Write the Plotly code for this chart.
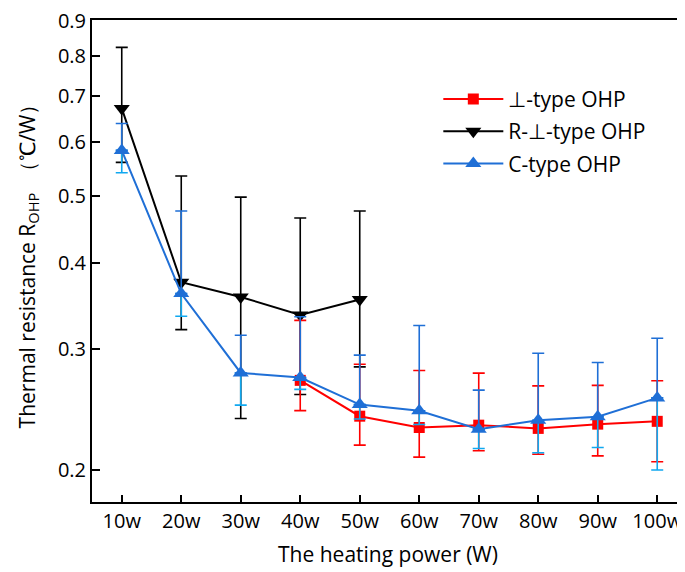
import plotly.graph_objects as go
import math

categories = ["10w", "20w", "30w", "40w", "50w", "60w", "70w", "80w", "90w", "100w"]

# ⊥-type OHP
perp = [None, None, None, 0.270, 0.2395, 0.2306, 0.2324, 0.2299, 0.2332, 0.2354]
perp_hi = [None, None, None, 0.330, 0.285, 0.279, 0.2766, 0.2651, 0.2655, 0.2696]
perp_lo = [None, None, None, 0.244, 0.2174, 0.2088, 0.2133, 0.2108, 0.2097, 0.2056]

# R-⊥-type OHP
rperp = [0.671, 0.375, 0.357, 0.336, 0.354, None, None, None, None, None]
rperp_hi = [0.823, 0.535, 0.4985, 0.465, 0.476, None, None, None, None, None]
rperp_lo = [0.560, 0.320, 0.2377, 0.2575, 0.2825, None, None, None, None, None]

# C-type OHP
ctype = [0.583, 0.361, 0.2768, 0.2726, 0.249, 0.2439, 0.2293, 0.2363, 0.2390, 0.2546]
ctype_hi = [0.638, 0.476, 0.314, 0.334, 0.2938, 0.3244, 0.2613, 0.2957, 0.2867, 0.3109]
ctype_lo = [0.541, 0.3346, 0.2485, 0.262, 0.2372, 0.2329, 0.2149, 0.2119, 0.2157, 0.200]

ytickvals = [0.2, 0.3, 0.4, 0.5, 0.6, 0.7, 0.8, 0.9]

RED = "#FF0000"
BLACK = "#000000"
BLUE = "#1F6FD6"
LBLUE = "#10A8F0"


def up(v, hi):
    return [(h - x) if (x is not None and h is not None) else None for x, h in zip(v, hi)]


def down(v, lo):
    return [(x - l) if (x is not None and l is not None) else None for x, l in zip(v, lo)]


font = "Open Sans"
fig = go.Figure()

# R-⊥-type
fig.add_trace(go.Scatter(
    x=categories, y=rperp, name="R-⊥-type OHP", mode="lines+markers",
    line=dict(color=BLACK, width=2),
    marker=dict(symbol="triangle-down", size=14, color=BLACK),
    error_y=dict(type="data", symmetric=False, array=up(rperp, rperp_hi),
                 arrayminus=down(rperp, rperp_lo), color=BLACK, thickness=1.6, width=6),
    legendrank=2, legendgroup="b",
))

# ⊥-type
fig.add_trace(go.Scatter(
    x=categories, y=perp, name="⊥-type OHP", mode="lines+markers",
    line=dict(color=RED, width=2),
    marker=dict(symbol="square", size=11, color=RED),
    error_y=dict(type="data", symmetric=False, array=up(perp, perp_hi),
                 arrayminus=down(perp, perp_lo), color=RED, thickness=1.6, width=6),
    legendrank=1, legendgroup="a",
))

# C-type lower error bars (lighter blue)
fig.add_trace(go.Scatter(
    x=categories, y=ctype, mode="markers", showlegend=False, hoverinfo="skip",
    marker=dict(size=1, color="rgba(0,0,0,0)"),
    error_y=dict(type="data", symmetric=False, array=[0] * len(ctype),
                 arrayminus=down(ctype, ctype_lo), color=LBLUE, thickness=1.6, width=6),
))

# C-type
fig.add_trace(go.Scatter(
    x=categories, y=ctype, name="C-type OHP", mode="lines+markers",
    line=dict(color=BLUE, width=2),
    marker=dict(symbol="triangle-up", size=14, color=BLUE),
    error_y=dict(type="data", symmetric=False, array=up(ctype, ctype_hi),
                 arrayminus=[0] * len(ctype), color=BLUE, thickness=1.6, width=6),
    legendrank=3, legendgroup="c",
))

fig.update_layout(
    width=677, height=564,
    margin=dict(l=84, r=1, t=12, b=70),
    paper_bgcolor="white", plot_bgcolor="white",
    font=dict(family=font, size=20, color="black"),
    showlegend=True,
    legend=dict(x=0.585, y=0.878, xanchor="left", yanchor="top",
                bgcolor="rgba(0,0,0,0)", borderwidth=0,
                font=dict(family=font, size=21), itemwidth=60,
                tracegroupgap=2),
)

fig.update_xaxes(
    type="category", categoryorder="array", categoryarray=categories,
    range=[-0.5, 9.45], automargin=False,
    showline=True, linecolor="black", linewidth=2, mirror=True,
    ticks="inside", ticklen=7, tickwidth=1.5, tickcolor="black",
    showgrid=False, zeroline=False, ticklabeloverflow="allow",
    tickfont=dict(family=font, size=20),
    title=dict(text="The heating power (W)", font=dict(family=font, size=21), standoff=14),
)

fig.update_yaxes(
    type="log", automargin=False,
    range=[math.log10(0.1797), math.log10(0.902)],
    tickvals=ytickvals, ticktext=[str(v) for v in ytickvals],
    showline=True, linecolor="black", linewidth=2, mirror=True,
    ticks="inside", ticklen=8, tickwidth=1.5, tickcolor="black",
    showgrid=False, zeroline=False, ticklabeloverflow="allow",
    tickfont=dict(family=font, size=20),
    title=dict(text="Thermal resistance R<sub>OHP</sub>  （℃/W）", font=dict(family=font, size=21), standoff=17),
)

fig.write_html("out.html")
